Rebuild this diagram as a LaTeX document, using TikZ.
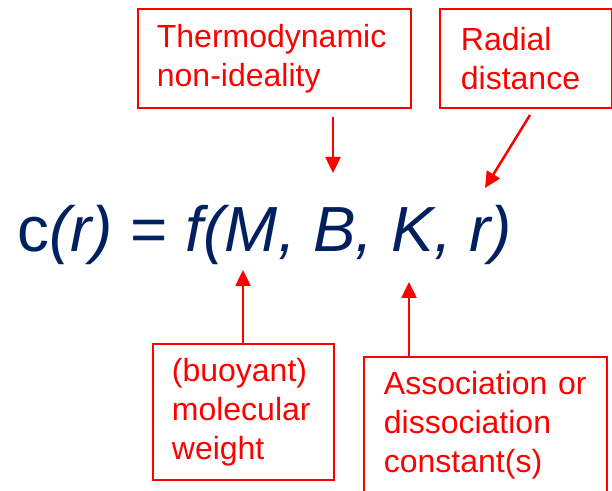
\documentclass[tikz,border=0pt]{standalone}
\usepackage{fontspec}
\setmainfont{Liberation Sans}
\usetikzlibrary{arrows.meta, positioning}
\definecolor{navy}{HTML}{002060}
\definecolor{redA}{HTML}{FF0000}
\tikzset{
  eqn/.style={font=\fontsize{63.8}{70}\selectfont, text=navy},
  notebox/.style={draw=redA, line width=1.8pt, fill=white, text=redA, font=\fontsize{32}{39}\selectfont, align=left, inner xsep=19pt, inner ysep=0pt, anchor=north west},
  pointer/.style={draw=redA, line width=2.5pt, -{Triangle[length=16pt,width=15pt]}}
}

\begin{document}
\begin{tikzpicture}[x=1pt,y=1pt]
\useasboundingbox (0,0) rectangle (612,490);
\clip (0,0) rectangle (612,490);

% the equation
\node[eqn, anchor=base west] (eqn) at (14,238) {c\textit{(r)} = \textit{f(M, B, K, r)}};

% boxes above
\node[notebox, text width=235pt, minimum height=99pt] (thermo) at (137,482)
{Thermodynamic\\non-ideality};
\node[notebox, inner xsep=21pt, text width=130pt, minimum height=99pt] (radial) at (439,482)
{Radial\\distance};

% boxes below
\node[notebox, inner xsep=19pt, text width=143pt, minimum height=136pt] (buoyant) at (152,147)
{(buoyant)\\molecular\\weight};
\node[notebox, inner xsep=20pt, text width=203pt, minimum height=136pt] (assoc) at (363,134)
{Association or\\dissociation\\constant(s)};

% arrow ends
\coordinate (tipB) at (333,317);
\coordinate (tipR) at (485,302);
\coordinate (tailR) at (530,375);
\coordinate (tipM) at (243,220);
\coordinate (tipK) at (409,208);

\draw[pointer, shorten <=8pt] (thermo.south -| tipB) -- (tipB);
\draw[pointer] (tailR) -- (tipR);
\draw[pointer] (buoyant.north -| tipM) -- (tipM);
\draw[pointer] (assoc.north -| tipK) -- (tipK);

\end{tikzpicture}
\end{document}
